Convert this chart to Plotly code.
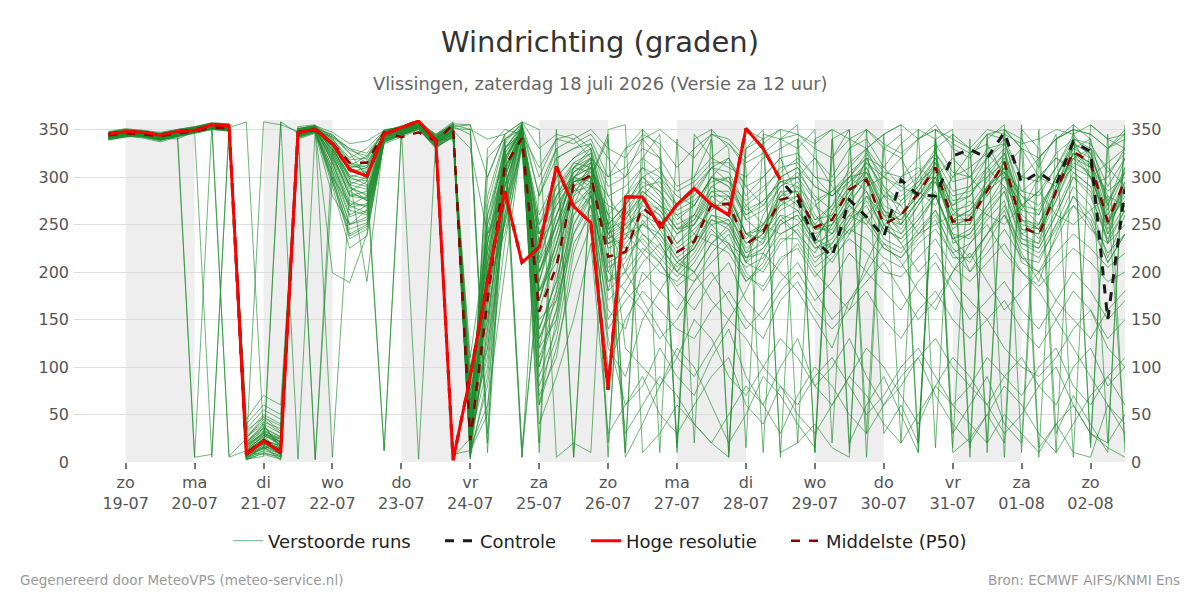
import pandas as pd
import plotly.graph_objects as go

# ---- time axis (6-hourly, 18-07 18:00 .. 02-08 12:00) ----
times = pd.date_range("2026-07-18 18:00", periods=60, freq="6h")

tick_dates = ["2026-07-19", "2026-07-20", "2026-07-21", "2026-07-22", "2026-07-23",
              "2026-07-24", "2026-07-25", "2026-07-26", "2026-07-27", "2026-07-28",
              "2026-07-29", "2026-07-30", "2026-07-31", "2026-08-01", "2026-08-02"]
tick_days = ["zo", "ma", "di", "wo", "do", "vr", "za", "zo", "ma", "di", "wo", "do", "vr", "za", "zo"]
tick_labels = ["19-07", "20-07", "21-07", "22-07", "23-07", "24-07", "25-07", "26-07",
               "27-07", "28-07", "29-07", "30-07", "31-07", "01-08", "02-08"]
shaded_days = ["2026-07-19", "2026-07-21", "2026-07-23", "2026-07-25", "2026-07-27",
               "2026-07-29", "2026-07-31", "2026-08-02"]

y_ticks = [0, 50, 100, 150, 200, 250, 300, 350]

# ---- deterministic series ----
hres = [345, 348, 347, 344, 348, 349, 355, 354, 8, 22,
        10, 347, 350, 335, 308, 301, 345, 352, 359, 338,
        2, 90, 190, 285, 210, 226, 311, 269, 252, 76,
        279, 279, 247, 271, 288, 271, 260, 351, 330, 297]

control = [345, 348, 347, 344, 348, 349, 355, 354, 8, 22,
           10, 347, 350, 335, 308, 301, 345, 352, 359, 338,
           2, 90, 190, 285, 210, 226, 311, 269, 252, 76,
           279, 279, 247, 271, 288, 271, 260, 351, 330, 297,
           276, 234, 216, 276, 258, 237, 297, 281, 280, 322,
           329, 320, 347, 294, 305, 292, 337, 327, 150, 287]

p50 = [344, 346, 345, 343, 346, 348, 352, 351, 9, 23,
       13, 347, 350, 336, 315, 315, 347, 342, 347, 338,
       355, 23, 170, 311, 341, 158, 206, 292, 302, 216,
       221, 268, 252, 221, 232, 271, 272, 229, 242, 276,
       281, 247, 255, 287, 297, 250, 260, 283, 310, 253,
       255, 285, 316, 248, 239, 285, 327, 315, 253, 297]

# ---- ensemble members (Verstoorde runs) ----
m01 = [340,343,345,341,344,349,353,351,5,18,
       8,346,351,338,312,322,346,349,356,341,
       350,12,140,300,346,170,230,300,310,240,
       250,262,240,215,230,280,266,220,250,270,
       290,240,250,280,310,265,240,270,300,245,
       260,280,310,235,230,290,335,310,240,290]
m02 = [346,349,347,345,349,350,356,355,15,30,
       22,350,353,320,285,295,342,348,352,336,
       345,30,200,320,352,140,190,280,295,205,
       215,275,260,230,245,265,280,240,230,285,
       270,230,265,300,285,240,275,290,320,265,
       250,300,325,260,245,275,320,330,265,305]
m03 = [344,346,342,338,343,5,8,350,20,40,
       12,352,3,300,270,280,348,354,358,345,
       358,5,90,260,355,200,240,310,325,250,
       200,255,230,200,220,250,255,210,260,290,
       300,260,240,275,320,280,250,300,330,230,
       240,270,300,280,260,300,340,300,230,310]
m04 = [341,344,346,343,347,351,355,353,8,15,
       5,345,349,342,330,318,350,352,355,344,
       352,45,240,335,358,60,150,270,310,180,
       260,290,275,245,260,290,300,255,240,300,
       310,275,220,255,290,300,320,285,270,300,
       325,335,300,270,285,310,345,320,280,20]
m05 = [343,347,345,342,345,348,352,350,10,22,
       14,349,351,345,325,300,345,350,357,343,
       355,350,30,290,350,10,320,330,340,300,
       330,350,10,340,20,350,330,15,345,340,
       355,10,340,350,30,345,355,20,340,350,
       15,345,5,350,330,10,355,340,20,350]
m06 = [339,342,344,340,343,346,350,349,18,35,
       20,344,348,310,260,270,338,345,352,335,
       348,60,180,250,340,120,150,240,270,160,
       140,200,180,160,190,220,240,200,180,210,
       230,200,180,160,210,250,230,200,220,190,
       170,150,120,100,90,110,140,160,120,100]
m07 = [347,350,348,346,350,353,357,356,3,12,
       28,351,354,335,300,305,347,351,354,339,
       340,5,250,330,345,250,280,300,290,270,
       260,280,300,280,270,300,290,260,275,295,
       300,320,290,270,250,280,300,310,295,270,
       280,310,290,265,300,320,305,290,300,330]
m08 = [342,344,343,339,344,348,351,6,25,45,
       30,340,346,280,250,265,335,342,350,330,
       344,20,120,280,358,180,210,290,300,230,
       240,220,200,190,210,240,230,190,210,250,
       260,230,210,240,280,260,230,250,280,240,
       200,230,260,220,190,240,280,250,210,240]
m09 = [345,348,346,344,347,350,354,353,10,8,
       3,348,352,328,295,290,343,347,355,338,
       350,35,300,345,5,290,330,340,320,300,
       310,330,320,290,300,320,310,300,320,330,
       340,320,300,330,350,330,320,340,355,330,
       320,345,340,300,320,340,350,345,330,350]
m10 = [340,342,345,342,345,349,352,350,30,50,
       40,343,349,300,240,250,340,346,353,334,
       346,80,220,300,350,100,180,260,280,120,
       90,150,180,210,200,170,150,180,220,200,
       180,150,120,170,200,230,210,180,160,200,
       230,250,220,200,180,150,120,90,60,40]
m11 = [344,347,345,341,346,350,355,354,6,20,
       10,347,351,340,320,330,349,353,357,342,
       354,10,170,310,348,230,260,310,330,250,
       270,300,280,250,260,300,320,280,300,320,
       280,250,270,310,330,290,260,280,310,270,
       290,320,340,270,250,300,330,340,270,320]
m12 = [348,351,349,347,350,352,357,5,12,28,
       18,353,355,326,290,275,344,350,356,342,
       5,25,100,270,352,210,250,285,290,260,
       240,250,270,260,240,230,250,270,250,240,
       250,270,255,240,260,280,270,240,250,260,
       275,260,250,270,285,260,250,265,280,270]
m13 = [341,345,343,340,344,347,352,350,22,38,
       16,345,350,318,275,268,341,348,354,337,
       347,15,60,200,340,40,90,150,230,30,
       60,80,120,90,70,110,140,90,60,100,
       130,80,60,90,120,100,70,40,80,110,
       90,60,30,50,80,100,60,30,20,50]
m14 = [343,346,344,341,345,349,353,352,14,26,
       6,348,352,333,305,310,346,350,356,340,
       351,40,280,340,355,300,340,345,330,5,
       330,340,320,10,345,320,335,310,10,340,
       330,350,20,330,340,310,335,350,15,345,
       330,20,350,340,310,345,5,355,340,330]
m15 = [345,348,346,343,348,351,355,353,4,16,
       12,351,354,341,315,305,347,352,358,344,
       356,8,210,320,350,180,220,280,315,235,
       245,265,255,225,240,270,260,230,240,265,
       275,245,255,285,300,250,260,280,305,255,
       265,285,315,245,240,280,325,315,250,295]
m16 = [339,343,341,337,342,346,350,348,35,55,
       45,341,347,295,235,245,336,344,351,332,
       342,100,190,240,330,80,130,230,260,140,
       170,190,210,180,160,190,210,170,150,180,
       200,170,190,220,200,180,160,190,210,180,
       150,170,190,160,140,170,200,180,150,170]
m17 = [346,349,347,344,349,5,354,352,8,14,
       20,349,353,336,310,315,345,350,355,341,
       349,330,240,290,345,260,300,320,335,280,
       290,310,290,270,285,310,295,275,290,305,
       320,300,280,295,315,300,290,305,325,300,
       310,325,305,285,300,320,310,300,315,330]
m18 = [342,345,344,340,343,347,351,349,12,24,
       9,344,349,325,280,285,340,346,354,336,
       348,18,130,280,350,150,170,240,280,190,
       200,170,140,110,90,120,150,130,100,80,
       60,90,110,80,50,70,100,120,90,60,
       80,110,90,70,100,120,80,60,90,110]
m19 = [344,347,345,342,346,350,354,352,2,10,
       4,346,351,344,330,325,348,352,356,342,
       353,355,20,330,355,20,350,5,300,345,
       10,320,345,15,300,340,10,330,350,5,
       340,10,320,350,5,330,345,10,330,345,
       5,340,355,10,320,340,350,15,345,10]
m20 = [347,350,348,345,349,352,356,354,16,32,
       24,350,353,314,270,262,343,349,354,338,
       347,50,260,320,348,240,290,310,305,280,
       250,230,210,240,260,250,230,215,235,260,
       240,220,250,270,255,230,220,245,265,235,
       215,240,260,230,220,250,270,245,230,250]
m21 = [341,344,346,342,344,348,352,351,28,42,
       35,342,347,305,250,258,339,345,352,333,
       345,28,160,305,355,120,200,300,320,210,
       220,235,215,195,215,245,225,205,215,240,
       250,225,230,255,270,235,225,240,265,220,
       230,255,275,215,210,250,290,270,215,260]
m22 = [345,347,346,343,347,351,355,354,9,20,
       15,348,352,331,298,296,345,349,355,340,
       8,12,50,340,15,190,260,295,300,230,
       235,285,270,245,250,285,285,240,235,275,
       265,235,260,285,300,260,255,275,295,250,
       255,290,305,255,235,275,315,305,245,285]
m23 = [343,346,344,341,345,349,353,350,19,33,
       25,346,350,322,288,282,342,347,354,337,
       350,55,230,330,347,220,280,315,310,260,
       5,40,80,120,100,60,20,50,90,70,
       40,15,340,20,60,90,50,10,350,30,
       60,90,40,20,350,30,70,40,10,355]
m24 = [340,343,344,340,343,347,351,349,40,60,
       50,343,348,290,225,238,337,344,351,331,
       343,70,200,250,335,90,140,250,285,150,
       180,210,230,200,190,210,230,195,185,215,
       225,195,215,235,220,200,195,215,235,205,
       190,210,230,200,185,205,225,210,190,200]
m25 = [346,349,348,345,348,352,356,355,5,16,
       2,349,353,339,318,320,347,351,357,343,
       357,3,330,350,345,310,340,335,345,320,
       300,340,350,335,320,345,340,320,335,350,
       345,335,350,340,330,345,355,340,350,340,
       330,350,345,335,340,350,345,355,340,345]
m26 = [342,345,343,339,344,348,352,350,13,27,
       11,345,350,310,268,272,341,347,353,336,
       349,20,150,290,350,170,240,290,270,200,
       180,160,130,150,180,200,170,140,160,190,
       210,180,150,170,190,210,180,150,170,200,
       220,190,160,180,200,170,150,130,160,180]
m27 = [344,347,346,342,346,350,354,353,7,19,
       13,347,352,334,306,300,346,350,356,341,
       353,345,10,300,350,240,280,310,320,20,
       280,300,310,270,290,310,320,290,270,300,
       310,290,280,300,320,310,290,280,300,320,
       300,280,310,330,300,290,310,330,310,290]
m28 = [341,344,343,340,344,348,351,350,25,48,
       32,342,348,298,245,252,338,345,352,334,
       346,90,210,270,345,110,160,260,290,170,
       190,220,245,215,200,230,245,210,200,230,
       245,215,225,245,235,215,205,230,245,220,
       200,220,245,215,200,220,240,225,205,220]
m29 = [347,350,349,346,350,353,357,356,11,23,
       17,350,354,347,335,338,349,353,358,345,
       354,25,180,315,352,200,250,305,318,245,
       265,290,295,265,275,295,300,265,275,295,
       290,270,285,300,305,280,280,295,310,280,
       285,300,315,280,270,295,320,310,285,300]
m30 = [343,345,344,341,345,349,352,351,3,6,
       358,346,351,335,290,280,344,349,355,339,
       351,350,340,345,358,350,5,20,10,350,
       355,10,30,60,40,20,5,350,340,10,
       20,40,15,5,350,30,60,20,340,10,
       25,50,20,355,15,40,10,5,60,30]
m31 = [345,348,347,344,347,351,355,354,17,29,
       21,349,352,328,292,287,344,349,355,339,
       349,22,190,315,351,160,220,295,305,225,
       235,260,250,220,235,270,270,230,245,275,
       280,245,245,275,295,255,250,275,300,250,
       250,285,300,245,240,285,320,300,250,280]
m32 = [342,346,344,340,345,349,353,351,4,12,
       7,345,350,342,325,315,345,350,356,341,
       352,8,270,338,356,280,320,330,335,290,
       300,320,305,285,295,315,315,290,300,320,
       325,300,295,315,330,305,300,320,335,305,
       300,330,335,300,295,325,340,335,305,325]
m33 = [346,349,347,344,348,351,355,353,33,47,
       38,347,351,316,265,260,340,346,353,335,
       346,40,110,260,345,130,170,270,285,190,
       210,240,225,205,225,255,250,215,225,255,
       265,235,225,250,275,245,235,255,280,240,
       235,260,285,235,225,260,300,285,230,265]
m34 = [340,343,342,339,343,347,351,349,20,36,
       27,344,348,306,258,265,339,345,351,333,
       344,65,230,310,340,200,250,300,295,240,
       225,250,240,210,225,260,255,220,230,260,
       255,225,235,265,285,250,240,260,285,235,
       245,270,290,240,230,265,305,290,240,270]
m35 = [343,346,344,341,340,348,5,352,358,30,
       18,346,2,330,298,190,343,348,355,340,
       352,5,140,290,350,130,180,300,280,230,
       245,270,260,230,250,275,260,225,240,270,
       280,250,240,270,300,260,245,270,295,255,
       265,290,305,240,250,285,325,300,255,275]
m36 = [344,347,345,343,346,350,354,352,14,358,
       355,348,351,5,285,275,342,348,354,337,
       348,18,200,325,348,215,270,300,310,245,
       255,280,265,240,255,285,275,235,250,280,
       295,255,270,295,310,270,260,285,315,265,
       270,295,320,255,250,290,330,320,260,295]
m37 = [341,345,343,340,344,348,352,350,6,14,
       358,3,350,329,300,292,12,344,352,336,
       350,45,260,330,352,250,300,320,330,270,
       120,100,80,110,150,130,90,70,100,130,
       110,80,100,130,90,60,80,110,130,100,
       80,60,90,110,80,60,100,120,80,100]
m38 = [345,348,346,344,347,351,355,353,9,21,
       14,348,352,337,315,310,346,350,3,340,
       353,30,230,320,5,200,260,305,320,250,
       270,295,285,255,270,300,290,255,265,290,
       305,280,265,290,315,290,275,295,320,285,
       290,310,330,265,260,300,335,325,270,310]
m39 = [342,345,344,340,344,348,352,350,26,40,
       30,343,348,303,250,255,339,345,352,333,
       345,75,150,280,345,140,190,270,290,200,
       230,250,235,210,225,255,245,210,225,250,
       260,230,240,260,280,245,235,255,280,235,
       240,265,285,230,225,260,300,280,235,265]
m40 = [347,350,348,345,349,352,356,354,7,17,
       9,349,353,337,312,308,346,351,356,341,
       352,20,320,340,350,280,330,5,300,340,
       10,350,330,20,340,350,5,330,340,350,
       20,340,350,10,330,345,20,350,340,15,
       340,10,350,330,5,340,355,20,330,345]
m41 = [343,346,345,342,346,349,353,351,15,28,
       20,347,351,323,282,278,343,348,354,338,
       349,50,250,310,348,240,270,295,300,240,
       265,240,220,200,230,260,250,215,220,255,
       240,210,230,260,250,225,215,240,260,225,
       210,240,270,225,215,245,280,260,220,240]
m42 = [340,344,342,339,343,347,351,349,3,9,
       6,344,349,199,189,240,338,344,350,332,
       343,10,80,230,340,60,120,200,250,100,
       150,180,160,140,130,160,180,150,130,170,
       190,160,140,160,180,150,130,160,180,150,
       130,150,170,140,120,150,180,160,130,150]
m43 = [346,349,347,344,348,352,355,354,18,30,
       24,350,353,325,292,300,12,349,355,340,
       350,35,170,305,350,180,230,290,310,235,
       250,275,265,240,250,280,280,240,245,280,
       285,245,250,280,305,265,250,275,300,255,
       255,290,310,250,245,285,325,310,250,290]
m44 = [344,347,346,342,346,350,354,352,11,25,
       12,346,351,332,308,305,345,349,355,339,
       351,25,210,330,353,230,290,315,325,260,
       280,310,300,270,280,310,305,270,285,310,
       315,290,280,300,325,300,285,300,325,295,
       300,320,335,285,280,310,340,330,290,320]
m45 = [341,344,343,339,343,347,351,349,45,70,
       60,342,347,296,238,248,337,344,351,331,
       342,110,240,270,330,70,110,220,270,130,
       60,90,50,30,60,90,110,60,40,80,
       50,30,60,90,70,40,20,50,80,60,
       40,20,50,30,10,40,60,30,15,5]
m46 = [345,348,347,344,348,351,355,354,12,24,
       16,349,352,330,302,298,345,350,356,340,
       355,15,190,318,350,190,250,300,315,240,
       255,285,270,245,255,290,280,240,250,285,
       285,255,260,290,305,265,255,285,310,260,
       260,290,315,255,245,285,325,315,255,290]
m47 = [343,346,344,341,345,349,353,351,21,36,
       26,345,350,315,272,270,341,347,353,336,
       347,60,120,255,340,100,160,250,280,180,
       200,225,210,185,200,230,220,190,205,235,
       235,205,220,245,260,225,215,235,255,215,
       215,240,265,210,200,235,270,255,210,240]
m48 = [346,349,348,345,349,352,356,355,4,15,
       8,351,354,343,328,322,348,352,357,343,
       356,355,300,345,358,330,345,340,350,330,
       320,345,335,310,330,345,335,315,325,340,
       345,330,320,340,350,335,325,340,350,335,
       325,345,350,330,320,340,350,345,330,340]
m49 = [342,345,343,340,344,348,352,350,17,31,
       21,344,349,320,280,277,342,347,353,337,
       348,40,180,300,347,170,230,285,300,225,
       30,60,90,70,40,20,50,80,60,30,
       70,100,80,50,30,60,90,110,70,40,
       20,50,80,60,30,10,40,70,90,60]
m50 = [344,347,345,342,346,350,354,352,8,19,
       11,347,351,334,310,312,346,350,356,341,
       352,20,220,325,352,210,275,305,315,250,
       270,300,285,260,270,300,295,260,270,295,
       300,275,285,305,320,285,270,290,315,275,
       280,305,325,270,265,300,335,325,275,305]

members = [m01, m02, m03, m04, m05, m06, m07, m08, m09, m10,
           m11, m12, m13, m14, m15, m16, m17, m18, m19, m20,
           m21, m22, m23, m24, m25, m26, m27, m28, m29, m30,
           m31, m32, m33, m34, m35, m36, m37, m38, m39, m40,
           m41, m42, m43, m44, m45, m46, m47, m48, m49, m50]

# ---- figure ----
FONT = "DejaVu Sans"
fig = go.Figure()

for k, m in enumerate(members):
    fig.add_trace(go.Scatter(
        x=times[:len(m)], y=m, mode="lines",
        line=dict(color="rgba(30,140,45,0.64)", width=1),
        name="Verstoorde runs", legendgroup="ens", legend="legend",
        showlegend=(k == 0), hoverinfo="skip"))

fig.add_trace(go.Scatter(
    x=times, y=p50, mode="lines", name="Middelste (P50)", legend="legend4",
    line=dict(color="#8b0000", width=2.5, dash="dash")))
fig.add_trace(go.Scatter(
    x=times, y=control, mode="lines", name="Controle", legend="legend2",
    line=dict(color="#1a1a1a", width=3, dash="dash")))
fig.add_trace(go.Scatter(
    x=times[:len(hres)], y=hres, mode="lines", name="Hoge resolutie", legend="legend3",
    line=dict(color="#ff0000", width=3)))
# invisible trace to anchor the right-hand axis
fig.add_trace(go.Scatter(x=[times[0]], y=[0], yaxis="y2", mode="markers",
                         marker=dict(opacity=0), showlegend=False, hoverinfo="skip"))

shapes = []
for d in shaded_days:
    start = pd.Timestamp(d)
    shapes.append(dict(type="rect", xref="x", yref="paper",
                       x0=start, x1=start + pd.Timedelta(days=1), y0=0, y1=1,
                       fillcolor="#eeeeee", line=dict(width=0), layer="below"))

tick_text = [f"{a}<br>{b}" for a, b in zip(tick_days, tick_labels)]

PW = 1051.0
PH = 342.0
def px_x(xp):
    return (xp - 74) / PW
def px_y(yp):
    return (462 - yp) / PH

legend_common = dict(orientation="h", xanchor="left", yanchor="middle",
                     y=px_y(541), font=dict(family=FONT, size=18, color="#222222"),
                     bgcolor="rgba(0,0,0,0)", borderwidth=0)

fig.update_layout(
    width=1200, height=600,
    margin=dict(l=74, r=75, t=120, b=138),
    paper_bgcolor="white", plot_bgcolor="white",
    font=dict(family=FONT, color="#555555", size=16),
    title=dict(text="Windrichting (graden)", x=0.5, xref="container", xanchor="center",
               y=1 - 42 / 600, yref="container", yanchor="middle",
               font=dict(family=FONT, size=29, color="#333333")),
    shapes=shapes,
    xaxis=dict(type="date",
               range=[pd.Timestamp("2026-07-18 06:00"), pd.Timestamp("2026-08-02 12:00")],
               tickvals=[pd.Timestamp(t) for t in tick_dates], ticktext=tick_text,
               ticks="outside", ticklen=6, tickwidth=2, tickcolor="#777777",
               showgrid=False, zeroline=False, showline=False,
               tickfont=dict(size=16, color="#555555")),
    yaxis=dict(range=[0, 360], tickvals=y_ticks, showgrid=True, gridcolor="#dddddd",
               gridwidth=1, zeroline=False, showline=False, ticks="",
               ticklabelstandoff=4,
               tickfont=dict(size=16, color="#555555")),
    yaxis2=dict(range=[0, 360], tickvals=y_ticks, overlaying="y", side="right",
                showgrid=False, zeroline=False, showline=False, ticks="",
                ticklabelstandoff=5,
                tickfont=dict(size=16, color="#555555")),
    legend=dict(x=px_x(232 - 4), **legend_common),
    legend2=dict(x=px_x(444 - 4), **legend_common),
    legend3=dict(x=px_x(590 - 4), **legend_common),
    legend4=dict(x=px_x(790 - 4), **legend_common),
    showlegend=True,
    annotations=[
        dict(text="Vlissingen, zaterdag 18 juli 2026 (Versie za 12 uur)",
             x=0.5, xref="paper", xanchor="center",
             y=px_y(84), yref="paper", yanchor="middle", showarrow=False,
             font=dict(family=FONT, size=17.8, color="#666666")),
        dict(text="Gegenereerd door MeteoVPS (meteo-service.nl)",
             x=px_x(18), xref="paper", xanchor="left",
             y=px_y(580), yref="paper", yanchor="middle", showarrow=False,
             font=dict(family=FONT, size=13.5, color="#999999")),
        dict(text="Bron: ECMWF AIFS/KNMI Ens",
             x=px_x(1182), xref="paper", xanchor="right",
             y=px_y(580), yref="paper", yanchor="middle", showarrow=False,
             font=dict(family=FONT, size=13.5, color="#999999")),
    ],
)

fig.write_html("out.html")
